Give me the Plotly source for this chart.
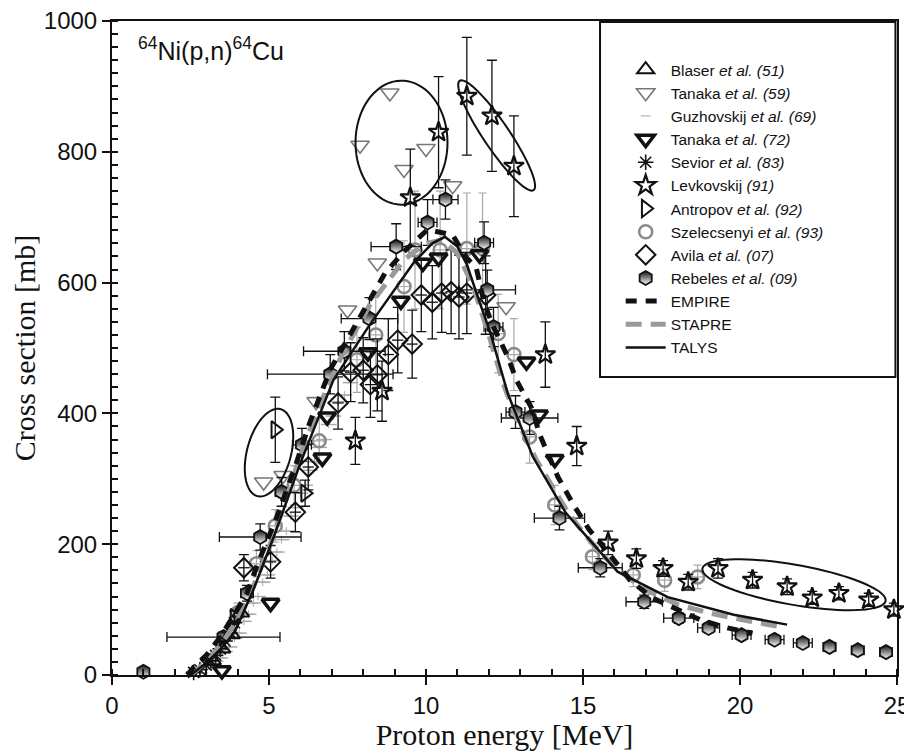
import numpy as np
import plotly.graph_objects as go

# ---------------- data ----------------
blaser_E = [3.2, 3.5, 3.8, 4.1]
blaser_s = [22, 40, 62, 95]

tanaka59_E = [4.83, 5.45, 6.5, 7.5, 7.9, 8.45, 8.85, 9.3, 10.0, 10.85, 12.55]
tanaka59_s = [295, 305, 418, 558, 810, 630, 890, 773, 805, 748, 563]

guzh_E = [2.8, 3.0, 3.15, 3.3, 3.45, 3.6, 3.75, 3.9, 4.05, 4.2, 4.35, 4.5, 4.65, 4.8,
          4.95, 5.1, 5.25, 5.4, 5.55, 5.7, 5.85, 6.0, 6.15, 6.3, 6.45, 6.6, 6.75, 6.9,
          7.05, 7.2, 7.4, 7.6]
guzh_s = [3, 9, 13, 21, 26, 36, 43, 56, 64, 82, 93, 110, 120, 142, 153, 175, 188, 207,
          220, 243, 256, 278, 290, 313, 326, 348, 360, 383, 396, 418, 428, 447]

tanaka72_E = [3.5, 5.05, 6.7, 6.85, 8.15, 9.2, 9.9, 10.4, 11.7, 13.2, 13.6, 14.1]
tanaka72_s = [7, 110, 332, 395, 493, 572, 630, 638, 643, 479, 398, 330]

sevior_E = [2.6, 2.8, 3.0, 3.15, 3.3, 3.45, 3.6, 3.75, 3.9]
sevior_s = [4, 8, 15, 22, 30, 40, 52, 65, 80]

levk_E = [7.75, 8.6, 9.5, 10.4, 11.3, 12.1, 12.8, 13.8, 14.8, 15.8, 16.7, 17.55, 18.35,
          19.3, 20.4, 21.5, 22.3, 23.15, 24.1, 24.9]
levk_s = [358, 434, 730, 830, 885, 855, 778, 490, 350, 202, 178, 163, 142, 163, 145, 135,
          118, 125, 115, 100]
levk_err = [36, 46, 74, 85, 90, 85, 77, 50, 30, 18, 15, 12, 12, 15, 12, 12, 10, 10, 10, 10]

antropov_E = [3.9, 5.2, 6.15]
antropov_s = [88, 375, 278]
antropov_err = [10, 50, 20]

szel_E = [4.0, 4.6, 5.2, 5.8, 6.6, 7.8, 8.4, 9.3, 9.65, 10.45, 11.3, 11.8, 12.3, 12.8,
          13.3, 14.1, 15.3, 16.6, 17.6, 18.65]
szel_s = [95, 170, 228, 290, 358, 482, 520, 594, 650, 650, 652, 652, 522, 490, 364, 260,
          181, 153, 145, 150]
szel_err = [15, 20, 25, 30, 35, 50, 60, 70, 90, 90, 85, 85, 60, 55, 40, 30, 20, 18, 17, 18]

avila_E = [4.2, 5.05, 5.84, 6.25, 7.2, 7.6, 8.0, 8.23, 8.45, 8.8, 9.1, 9.56, 9.85, 10.2,
           10.5, 10.8, 11.05, 11.3, 11.9]
avila_s = [164, 173, 249, 318, 416, 463, 466, 444, 459, 490, 512, 506, 581, 570, 584,
           586, 578, 584, 581]
avila_err = [20, 25, 30, 35, 40, 45, 50, 50, 55, 55, 50, 52, 56, 56, 60, 64, 64, 62, 60]

rebeles_E = [1.0, 3.55, 4.3, 4.72, 5.4, 6.05, 6.95, 7.4, 8.2, 9.05, 10.05, 10.62, 11.85,
             11.95, 12.15, 12.85, 13.3, 14.25, 15.55, 16.95, 18.05, 19.0, 20.05, 21.1,
             22.0, 22.85, 23.75, 24.65]
rebeles_s = [5, 58, 125, 211, 280, 352, 460, 495, 545, 655, 692, 727, 661, 589, 532, 402,
             393, 240, 164, 112, 87, 72, 61, 54, 49, 43, 38, 35]
rebeles_xerr = [0.0, 1.8, 0.2, 1.3, 0.2, 0.3, 2.0, 1.3, 0.9, 0.8, 0.3, 0.4, 0.3, 0.9,
                0.3, 0.3, 0.9, 0.8, 0.7, 0.58, 0.48, 0.35, 0.3, 0.3, 0.3, 0.2, 0.2, 0.2]
rebeles_yerr = [3, 8, 12, 20, 22, 25, 30, 30, 32, 35, 35, 30, 32, 30, 30, 25, 25, 18,
                14, 10, 8, 7, 6, 6, 5, 5, 5, 5]

empire_E = [2.4, 2.6, 3.0, 3.45, 3.85, 4.3, 4.6, 5.25, 5.8, 6.3, 6.95, 7.8, 8.7, 9.35,
            10.05, 10.85, 11.25, 11.6, 11.85, 12.15, 12.6, 12.9, 13.4, 13.6, 14.2, 14.7,
            15.2, 15.8, 16.5, 17.2, 18.0, 18.75, 19.6, 20.4]
empire_s = [0, 12, 30, 58, 89, 125, 165, 242, 314, 386, 467, 540, 615, 650, 681, 673,
            640, 623, 569, 532, 487, 449, 405, 370, 303, 260, 222, 187, 145, 118, 100, 84,
            72, 64]

stapre_E = [2.5, 3.0, 3.5, 4.0, 4.5, 5.0, 5.5, 6.0, 6.5, 7.3, 8.2, 9.3, 10.0, 10.5, 11.0,
            11.5, 12.0, 12.5, 13.0, 13.5, 14.0, 14.5, 15.0, 15.5, 16.0, 17.0, 18.0, 19.0,
            20.0, 21.4]
stapre_s = [0, 20, 48, 85, 135, 195, 262, 335, 400, 487, 565, 635, 660, 665, 645, 595,
            520, 440, 380, 330, 290, 250, 218, 190, 165, 130, 108, 95, 85, 73]

talys_E = [2.5, 3.0, 3.5, 3.9, 4.5, 5.15, 6.0, 7.05, 8.2, 9.0, 9.6, 10.2, 10.6, 11.0,
           11.3, 11.65, 12.05, 12.6, 13.4, 14.45, 15.55, 16.1, 17.7, 19.8, 21.5]
talys_s = [0, 18, 42, 65, 130, 211, 324, 451, 535, 590, 630, 660, 670, 655, 628, 578,
           523, 431, 334, 248, 187, 158, 119, 92, 77]

x_ticks = [0, 5, 10, 15, 20, 25]
y_ticks = [0, 200, 400, 600, 800, 1000]

# ---------------- figure ----------------
BLACK = "#111111"
GREY = "#8a8a8a"
LGREY = "#a8a8a8"

fig = go.Figure()


def eb(arr, color, width=5, thick=1.3):
    return dict(type="data", array=arr, color=color, thickness=thick, width=width, visible=True)


fig.add_trace(go.Scatter(
    x=guzh_E, y=guzh_s, mode="markers", name="Guzhovskij <i>et al.</i> <i>(69)</i>",
    legendrank=3,
    marker=dict(symbol="line-ew-open", size=7, color=LGREY, line=dict(color=LGREY, width=1)),
    error_x=eb([0.25] * len(guzh_E), LGREY, 0, 1.4),
    error_y=eb([6] * len(guzh_E), LGREY, 0, 1.0)))

fig.add_trace(go.Scatter(
    x=szel_E, y=szel_s, mode="markers", name="Szelecsenyi <i>et al.</i> <i>(93)</i>",
    legendrank=8,
    marker=dict(symbol="circle-open", size=13, color=GREY, line=dict(color=GREY, width=2.5)),
    error_x=eb([0.2] * len(szel_E), LGREY, 4, 1.2),
    error_y=eb(szel_err, LGREY, 4, 1.2)))

fig.add_trace(go.Scatter(
    x=tanaka59_E, y=tanaka59_s, mode="markers", name="Tanaka <i>et al.</i> <i>(59)</i>",
    legendrank=2,
    marker=dict(symbol="triangle-down-open", size=16, color="#777777",
                line=dict(color="#777777", width=1.6))))

fig.add_trace(go.Scatter(
    x=avila_E, y=avila_s, mode="markers", name="Avila <i>et al.</i> <i>(07)</i>",
    legendrank=9,
    marker=dict(symbol="diamond-open", size=15, color=BLACK, line=dict(color=BLACK, width=2)),
    error_x=eb([0.18] * len(avila_E), BLACK, 0, 1.3),
    error_y=eb(avila_err, BLACK, 5, 1.3)))

fig.add_trace(go.Scatter(
    x=rebeles_E, y=rebeles_s, mode="markers", name="Rebeles <i>et al.</i> <i>(09)</i>",
    legendrank=10,
    marker=dict(symbol="hexagon", size=14, color=BLACK,
                gradient=dict(type="vertical", color="white"),
                line=dict(color=BLACK, width=1.8)),
    error_x=eb(rebeles_xerr, BLACK, 5, 1.3),
    error_y=eb(rebeles_yerr, BLACK, 5, 1.3)))

fig.add_trace(go.Scatter(
    x=levk_E, y=levk_s, mode="markers", name="Levkovskij <i>(91)</i>",
    legendrank=6,
    marker=dict(symbol="star-open", size=15, color=BLACK, line=dict(color=BLACK, width=2.2)),
    error_y=eb(levk_err, BLACK, 5, 1.3)))

fig.add_trace(go.Scatter(
    x=tanaka72_E, y=tanaka72_s, mode="markers", name="Tanaka <i>et al.</i> <i>(72)</i>",
    legendrank=4,
    marker=dict(symbol="triangle-down-open", size=15, color=BLACK,
                line=dict(color=BLACK, width=3.5))))

fig.add_trace(go.Scatter(
    x=antropov_E, y=antropov_s, mode="markers", name="Antropov <i>et al.</i> <i>(92)</i>",
    legendrank=7,
    marker=dict(symbol="triangle-right-open", size=15, color=BLACK,
                line=dict(color=BLACK, width=2)),
    error_y=eb(antropov_err, BLACK, 5, 1.3)))

fig.add_trace(go.Scatter(
    x=sevior_E, y=sevior_s, mode="markers", name="Sevior <i>et al.</i> <i>(83)</i>",
    legendrank=5,
    marker=dict(symbol="asterisk-open", size=13, color=BLACK, line=dict(color=BLACK, width=1.6))))

fig.add_trace(go.Scatter(
    x=blaser_E, y=blaser_s, mode="markers", name="Blaser <i>et al.</i> <i>(51)</i>",
    legendrank=1,
    marker=dict(symbol="triangle-up-open", size=15, color=BLACK, line=dict(color=BLACK, width=2))))

fig.add_trace(go.Scatter(
    x=stapre_E, y=stapre_s, mode="lines", name="STAPRE", legendrank=12,
    line=dict(color="#9a9a9a", width=5, dash="16px,9px")))

fig.add_trace(go.Scatter(
    x=empire_E, y=empire_s, mode="lines", name="EMPIRE", legendrank=11,
    line=dict(color=BLACK, width=5, dash="11px,9px")))

fig.add_trace(go.Scatter(
    x=talys_E, y=talys_s, mode="lines", name="TALYS", legendrank=13,
    line=dict(color=BLACK, width=2.5)))

for tr in fig.data:
    tr.cliponaxis = False

# ---------------- ellipses (annotation shapes) ----------------
PX_PER_E = 31.4
PX_PER_S = 0.654


def ellipse_path(cx, cy, a_px, b_px, ang_deg):
    t = np.linspace(0, 2 * np.pi, 80)
    th = np.deg2rad(ang_deg)
    xp = a_px * np.cos(t)
    yp = b_px * np.sin(t)
    X = xp * np.cos(th) - yp * np.sin(th)
    Y = xp * np.sin(th) + yp * np.cos(th)
    ex = cx + X / PX_PER_E
    ey = cy - Y / PX_PER_S
    pts = [f"{x:.4f},{y:.3f}" for x, y in zip(ex, ey)]
    return "M " + " L ".join(pts) + " Z"


ellipses = [
    (5.0, 340, 22, 45, 15),
    (9.22, 814, 46, 62, 0),
    (12.25, 825, 66, 13, 56),
    (21.72, 138, 93, 20, 10),
]
for cx, cy, a, b, ang in ellipses:
    fig.add_shape(type="path", xref="x", yref="y", path=ellipse_path(cx, cy, a, b, ang),
                  line=dict(color=BLACK, width=2))

# legend box
fig.add_shape(type="rect", xref="paper", yref="paper", x0=0.6217, x1=0.998, y0=0.4557,
              y1=0.9985, line=dict(color=BLACK, width=2), fillcolor="rgba(0,0,0,0)")

fig.add_annotation(xref="paper", yref="paper", x=0.030, y=0.985, xanchor="left",
                   yanchor="top", showarrow=False,
                   text="<sup>64</sup>Ni(p,n)<sup>64</sup>Cu",
                   font=dict(family="Liberation Sans, Arial, sans-serif", size=25, color=BLACK))

tickfont = dict(family="Liberation Sans, Arial, sans-serif", size=24, color=BLACK)

# the page body adds an 8 px offset, so the figure is 8 px smaller than the window
fig.update_layout(
    width=904, height=743,
    margin=dict(l=104, r=15, t=13, b=76, autoexpand=False),
    paper_bgcolor="white", plot_bgcolor="white",
    showlegend=True,
    legend=dict(x=0.648, y=0.951, xanchor="left", yanchor="top", bgcolor="rgba(0,0,0,0)",
                borderwidth=0, traceorder="normal", itemwidth=40,
                font=dict(family="Liberation Sans, Arial, sans-serif", size=15.5, color=BLACK),
                itemsizing="trace"),
    xaxis=dict(range=[0, 25], tickvals=x_ticks, ticktext=[str(v) for v in x_ticks],
               showgrid=False, zeroline=False, showline=True, linecolor=BLACK, linewidth=2,
               mirror=True, ticks="outside", ticklen=8, tickwidth=2, tickcolor=BLACK,
               tickfont=tickfont, automargin=False, ticklabeloverflow="allow",
               minor=dict(dtick=1, ticks="inside", ticklen=6, tickwidth=1.5, tickcolor=BLACK),
               title=dict(text="Proton energy [MeV]", standoff=3,
                          font=dict(family="Liberation Serif, Times New Roman, serif",
                                    size=30, color=BLACK))),
    yaxis=dict(range=[0, 1000], tickvals=y_ticks, ticktext=[str(v) for v in y_ticks],
               showgrid=False, zeroline=False, showline=True, linecolor=BLACK, linewidth=2,
               mirror=True, ticks="outside", ticklen=8, tickwidth=2, tickcolor=BLACK,
               tickfont=tickfont, automargin=False, ticklabeloverflow="allow",
               minor=dict(dtick=20, ticks="inside", ticklen=6, tickwidth=1.5, tickcolor=BLACK),
               title=dict(text="Cross section [mb]", standoff=16,
                          font=dict(family="Liberation Serif, Times New Roman, serif",
                                    size=30, color=BLACK))),
    xaxis2=dict(overlaying="x", matches="x", side="top", anchor="y", range=[0, 25],
                tickvals=x_ticks, showticklabels=False, showgrid=False, zeroline=False,
                showline=False, ticks="inside", ticklen=8, tickwidth=2, tickcolor=BLACK,
                automargin=False,
                minor=dict(dtick=1, ticks="inside", ticklen=6, tickwidth=1.5, tickcolor=BLACK)),
    yaxis2=dict(overlaying="y", matches="y", side="right", anchor="x", range=[0, 1000],
                tickvals=y_ticks, showticklabels=False, showgrid=False, zeroline=False,
                showline=False, ticks="inside", ticklen=8, tickwidth=2, tickcolor=BLACK,
                automargin=False,
                minor=dict(dtick=20, ticks="inside", ticklen=6, tickwidth=1.5, tickcolor=BLACK)),
)

fig.write_html("out.html")
